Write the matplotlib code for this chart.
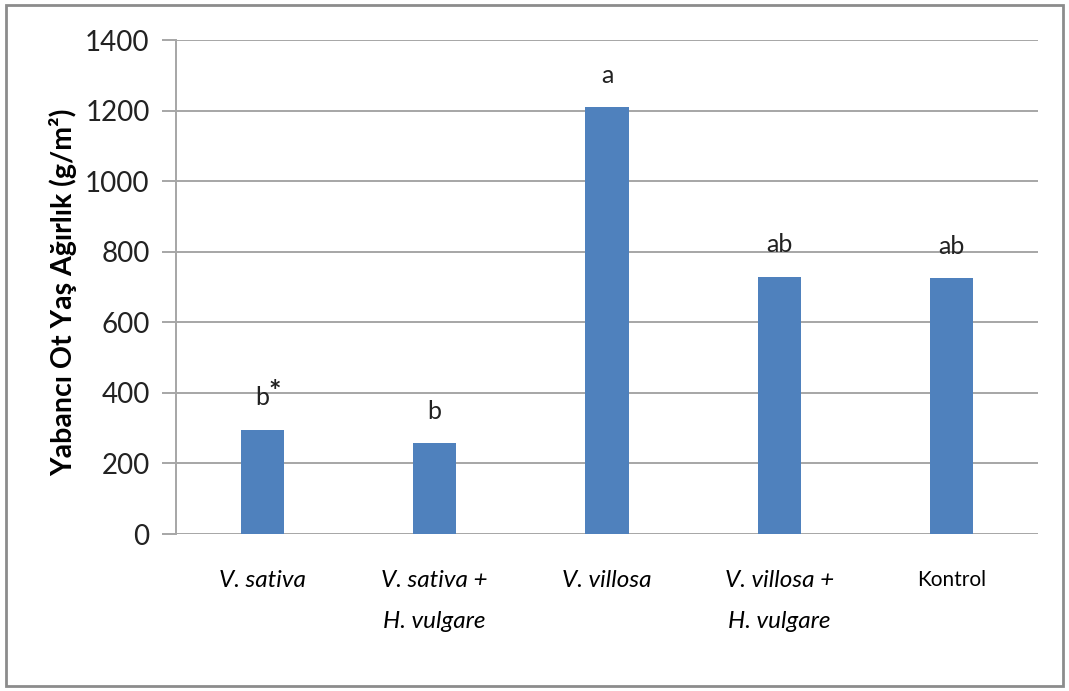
import matplotlib
matplotlib.use("Agg")
import matplotlib.pyplot as plt
from matplotlib.patches import Rectangle

categories = ["V. sativa", "V. sativa +\nH. vulgare", "V. villosa", "V. villosa +\nH. vulgare", "Kontrol"]
values = [296, 258, 1210, 729, 725]
letters = ["b", "b", "a", "ab", "ab"]
yticks = [0, 200, 400, 600, 800, 1000, 1200, 1400]

plt.rcParams['font.family'] = ['Lato', 'DejaVu Sans']

fig = plt.figure(figsize=(10.69, 6.91), dpi=100)
ax = fig.add_axes([0.1646, 0.2272, 0.8064, 0.7148])

x = list(range(len(categories)))
ax.bar(x, values, width=0.25, color='#4F81BD', zorder=3)

ax.set_xlim(-0.5, 4.5)
ax.set_ylim(0, 1400)
ax.set_yticks(yticks)
ax.set_yticklabels([str(v) for v in yticks], fontsize=20, color='#222222')
ax.yaxis.grid(True, color='#A6A6A6', linewidth=1.4, zorder=0)
ax.set_axisbelow(True)
for s in ['top', 'right', 'bottom']:
    ax.spines[s].set_visible(False)
ax.spines['left'].set_color('#A6A6A6')
ax.spines['left'].set_linewidth(1.4)
ax.tick_params(axis='y', length=10, width=1.4, color='#A6A6A6', pad=9)
ax.tick_params(axis='x', length=0, pad=26)

ax.set_xticks(x)
labels = ax.set_xticklabels(categories, fontsize=17.5, linespacing=2.15, va='top')
for lab, cat in zip(labels, categories):
    if cat == "Kontrol":
        lab.set_fontstyle('normal')
        lab.set_fontsize(15)
    else:
        lab.set_fontstyle('italic')

ax.set_ylabel("Yabancı Ot Yaş Ağırlık (g/m²)", fontsize=20.5, fontweight='bold', va='center')
ax.yaxis.set_label_coords(-0.1305, 0.49)

for xi, v, l in zip(x, values, letters):
    ax.annotate(l, (xi, v), xytext=(0, 23), textcoords='offset points',
                ha='center', va='center', fontsize=18, color='#222222')
ax.annotate("*", (0, values[0]), xytext=(9, 27), textcoords='offset points',
            ha='center', va='center', fontsize=21, color='#222222', fontweight='bold')

fig.patches.append(Rectangle((6/1069, 5/691), 1057/1069, 681/691, transform=fig.transFigure,
                             fill=False, edgecolor='#8C8C8C', linewidth=2))

fig.savefig("out.png", dpi=100)
